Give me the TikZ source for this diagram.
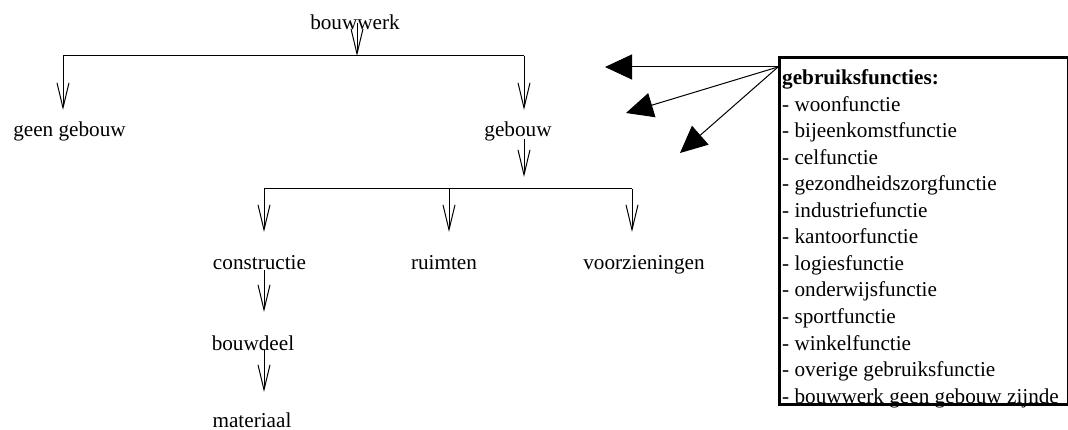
\documentclass[tikz,border=0pt]{standalone}
\usepackage{fontspec}
\setmainfont{Liberation Serif}
\usetikzlibrary{arrows.meta}
\begin{document}
\begin{tikzpicture}[x=1pt,y=-1pt,
  lbl/.style={inner sep=0pt, anchor=base, font=\fontsize{21.2}{26.5}\selectfont},
  listline/.style={inner sep=0pt, anchor=base west, font=\fontsize{21.2}{26.5}\selectfont},
  tree/.style={line width=1pt, -{Straight Barb[length=25pt,width=12pt,line width=1pt]}},
  bar/.style={line width=1pt},
  big/.style={line width=1pt, -{Triangle[length=27pt,width=25pt]}},
  frame/.style={draw, line width=3pt, inner sep=0pt, anchor=north west, minimum width=288.5pt, minimum height=347pt}]
\useasboundingbox (0,0) rectangle (1068,430);

% tree nodes
\node[lbl] (bouwwerk) at (355,30) {bouwwerk};
\node[lbl] (geen) at (69.5,137) {geen gebouw};
\node[lbl] (gebouw) at (518,137) {gebouw};
\node[lbl] (constructie) at (259.5,270) {constructie};
\node[lbl] (ruimten) at (444,270) {ruimten};
\node[lbl] (voorz) at (644,270) {voorzieningen};
\node[lbl] (bouwdeel) at (253,350) {bouwdeel};
\node[lbl] (materiaal) at (252,427) {materiaal};

% junction coordinates
\coordinate (j1) at (357,56);
\coordinate (jL) at (63,56);
\coordinate (jR) at (524,56);
\coordinate (tL) at (63,110);
\coordinate (tR) at (524,110);
\coordinate (g1) at (524,177);
\coordinate (kL) at (264,189);
\coordinate (kM) at (449,189);
\coordinate (kR) at (632,189);
\coordinate (uL) at (264,232);
\coordinate (uM) at (449,232);
\coordinate (uR) at (632,232);
\coordinate (c1) at (264,312);
\coordinate (d1) at (264,392);

% connectors
\draw[tree] (j1 |- bouwwerk.center) -- (j1);
\draw[bar] (jL) -- (jR);
\draw[tree] (jL) -- (tL);
\draw[tree] (jR) -- (tR);
\draw[tree] ([yshift=-7pt]g1 |- gebouw.center) -- (g1);
\draw[bar] (kL) -- (kR);
\draw[tree] (kL) -- (uL);
\draw[tree] (kM) -- (uM);
\draw[tree] (kR) -- (uR);
\draw[tree] (c1 |- constructie.base) -- (c1);
\draw[tree] (d1 |- bouwdeel.base) -- (d1);

% gebruiksfuncties list
\node[listline] (l0) at (782,85) {\bfseries gebruiksfuncties:};
\foreach \t [count=\i] in {woonfunctie, bijeenkomstfunctie, celfunctie,
  gezondheidszorgfunctie, industriefunctie, kantoorfunctie, logiesfunctie,
  onderwijsfunctie, sportfunctie, winkelfunctie, overige gebruiksfunctie,
  bouwwerk geen gebouw zijnde}
  \node[listline] (l\i) at (782,85+26.5*\i) {- \t};

\node[frame] (box) at (778,56) {};

% filled arrows from box
\coordinate (src) at (778,67);
\coordinate (t1) at (605,67);
\coordinate (t2) at (626,113);
\coordinate (t3) at (680,153);
\draw[big] (src) -- (t1);
\draw[big] (src) -- (t2);
\draw[big] (src) -- (t3);
\end{tikzpicture}
\end{document}
